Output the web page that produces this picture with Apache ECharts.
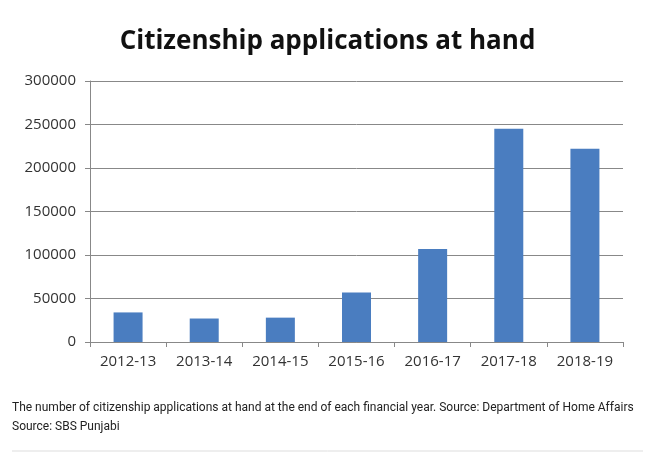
<!DOCTYPE html>
<html><head><meta charset="utf-8">
<script src="https://cdn.jsdelivr.net/npm/echarts@6/dist/echarts.min.js"></script>
<style>html,body{margin:0;padding:0;background:#fff}#c{width:655px;height:454px}</style>
</head><body><div id="c"></div>
<script>
const categories = ['2012-13','2013-14','2014-15','2015-16','2016-17','2017-18','2018-19'];
const applications = [34000, 27000, 28000, 57000, 107000, 245000, 222000];
const titleText = 'Citizenship applications at hand';
const captionLines = ['The number of citizenship applications at hand at the end of each financial year. Source: Department of Home Affairs','Source: SBS Punjabi'];

const chart = echarts.init(document.getElementById('c'));
chart.setOption({
  animation: false,
  backgroundColor: '#fff',
  title: {
    text: titleText, left: 'center', top: 24,
    textStyle: {fontFamily: 'Open Sans', fontWeight: 'bold', fontSize: 26, color: '#111'}
  },
  grid: {left: 90, right: 32, top: 81, bottom: 112},
  xAxis: {
    type: 'category', data: categories,
    axisLine: {lineStyle: {color: '#888', width: 1}},
    axisTick: {show: true, length: 5, alignWithLabel: false, lineStyle: {color: '#888'}},
    axisLabel: {fontFamily: 'Open Sans', fontSize: 15, color: '#333', margin: 12}
  },
  yAxis: {
    type: 'value', min: 0, max: 300000, interval: 50000,
    axisLine: {show: true, lineStyle: {color: '#888', width: 1}},
    axisTick: {show: true, length: 5, lineStyle: {color: '#888'}},
    splitLine: {lineStyle: {color: '#888', width: 1}},
    axisLabel: {fontFamily: 'Open Sans', fontSize: 15, color: '#333', margin: 14, formatter: v => String(v)}
  },
  series: [{
    type: 'bar', data: applications, barWidth: 29,
    itemStyle: {color: '#4a7dc0'}
  }],
  graphic: [
    {type: 'text', left: 12, top: 402, style: {text: captionLines[0], font: '12px Roboto', fill: '#222'}},
    {type: 'text', left: 12, top: 421, style: {text: captionLines[1], font: '12px Roboto', fill: '#222'}},
    {type: 'line', shape: {x1: 12, y1: 451, x2: 643, y2: 451}, style: {stroke: '#ddd', lineWidth: 1}}
  ]
});
</script></body></html>
